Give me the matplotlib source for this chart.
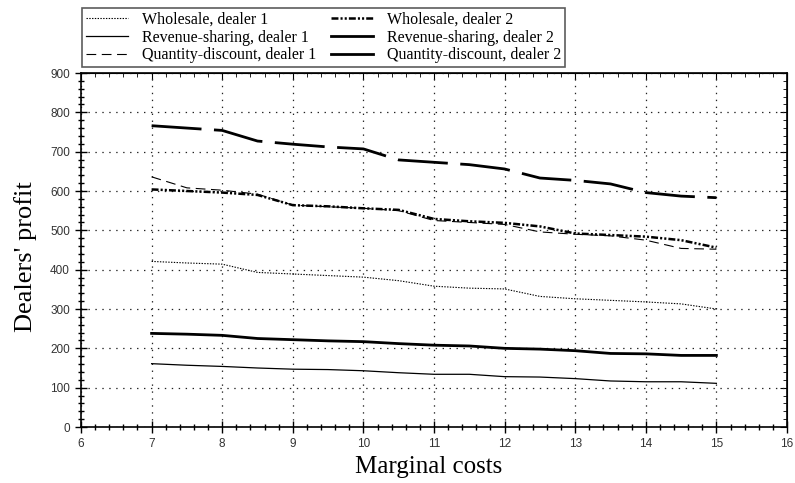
import numpy as np
import matplotlib.pyplot as plt
from matplotlib.lines import Line2D
from matplotlib.ticker import MultipleLocator

plt.rcParams['lines.scale_dashes'] = False

# marginal costs (x) and dealers' profit for each contract
cost = [7, 7.5, 8, 8.5, 9, 9.5, 10, 10.5, 11, 11.5, 12, 12.5, 13, 13.5, 14, 14.5, 15]
wholesale_d1 = [421, 417, 414, 393, 389, 385, 381, 372, 358, 353, 351, 332, 326, 322, 318, 313, 300]
wholesale_d2 = [604, 600, 596, 590, 564, 561, 556, 552, 529, 523, 519, 510, 492, 488, 484, 475, 456]
revenue_d1 = [161, 157, 154, 150, 147, 146, 143, 138, 134, 134, 128, 127, 123, 117, 115, 115, 111]
revenue_d2 = [238, 236, 233, 225, 222, 219, 217, 212, 208, 206, 200, 198, 194, 187, 186, 182, 182]
quantity_d1 = [636, 608, 602, 592, 564, 560, 556, 550, 525, 520, 515, 496, 490, 486, 475, 454, 452]
quantity_d2 = [766, 760, 754, 727, 719, 712, 707, 679, 673, 667, 656, 633, 627, 618, 596, 587, 583]

serif = 'Liberation Serif'
sans = 'Liberation Sans'

fig = plt.figure(figsize=(7.95, 4.83), dpi=100)
ax = fig.add_axes([81 / 795, 1 - 427 / 483, 706 / 795, 354 / 483])

ax.plot(cost, wholesale_d1, color='black', lw=0.8, ls=(0, (1, 1)))
ax.plot(cost, wholesale_d2, color='black', lw=1.8, ls=(0, (5, 1.5, 1.5, 1.5, 1.5, 1.5)))
ax.plot(cost, revenue_d1, color='black', lw=0.9, ls='-')
ax.plot(cost, revenue_d2, color='black', lw=2.0, ls='-')
ax.plot(cost, quantity_d1, color='black', lw=0.8, ls=(0, (7, 4)))
ax.plot(cost, quantity_d2, color='black', lw=2.0, ls=(0, (36, 9)))

ax.set_xlim(6, 16)
ax.set_ylim(0, 900)
ax.xaxis.set_major_locator(MultipleLocator(1))
ax.xaxis.set_minor_locator(MultipleLocator(0.2))
ax.yaxis.set_major_locator(MultipleLocator(100))
ax.yaxis.set_minor_locator(MultipleLocator(20))
ax.grid(True, which='major', color='#222222', ls=(0, (1, 4)), lw=0.9)

ax.tick_params(which='both', direction='inout', colors='black', width=1.0,
               labelcolor='#333333', labelsize=8.5)
ax.tick_params(which='major', length=9)
ax.tick_params(which='minor', length=5)
for lab in ax.get_xticklabels() + ax.get_yticklabels():
    lab.set_family(sans)
for s in ax.spines.values():
    s.set_linewidth(1.2)

# inward ticks on the top and right edges
top = ax.secondary_xaxis('top')
top.xaxis.set_major_locator(MultipleLocator(1))
top.xaxis.set_minor_locator(MultipleLocator(0.2))
top.tick_params(which='both', direction='in', labeltop=False)
top.tick_params(which='major', length=5)
top.tick_params(which='minor', length=3)
right = ax.secondary_yaxis('right')
right.yaxis.set_major_locator(MultipleLocator(100))
right.yaxis.set_minor_locator(MultipleLocator(20))
right.tick_params(which='both', direction='in', labelright=False)
right.tick_params(which='major', length=5)
right.tick_params(which='minor', length=3)

ax.set_xlabel('Marginal costs', family=serif, fontsize=18)
ax.set_ylabel("Dealers' profit", family=serif, fontsize=19)
ax.xaxis.set_label_coords(0.492, -0.083)
ax.yaxis.set_label_coords(-0.062, 0.48)

handles = [
    Line2D([], [], color='black', lw=0.8, ls=(0, (1, 1))),
    Line2D([], [], color='black', lw=0.9, ls='-'),
    Line2D([], [], color='black', lw=0.8, ls=(0, (7, 4))),
    Line2D([], [], color='black', lw=1.8, ls=(0, (5, 1.5, 1.5, 1.5, 1.5, 1.5))),
    Line2D([], [], color='black', lw=2.0, ls='-'),
    Line2D([], [], color='black', lw=2.0, ls='-'),
]
labels = ['Wholesale, dealer 1', 'Revenue-sharing, dealer 1', 'Quantity-discount, dealer 1',
          'Wholesale, dealer 2', 'Revenue-sharing, dealer 2', 'Quantity-discount, dealer 2']
leg = fig.legend(handles, labels, ncol=2, loc='upper left',
                 bbox_to_anchor=(82 / 795, 1 - 8 / 483),
                 prop={'family': serif, 'size': 11.5}, frameon=True, fancybox=False,
                 edgecolor='#333333', borderpad=0.25, labelspacing=0.1,
                 handlelength=2.6, handletextpad=0.9, columnspacing=0.95,
                 borderaxespad=0)
leg.get_frame().set_linewidth(1.2)

fig.savefig('out.png', dpi=100)
